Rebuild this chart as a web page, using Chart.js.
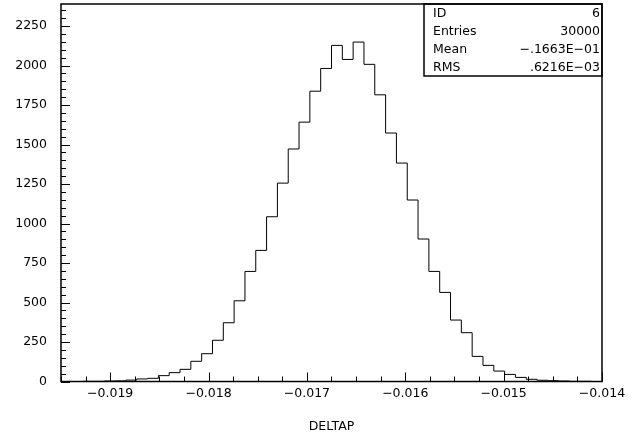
<!DOCTYPE html>
<html>
<head>
<meta charset="utf-8">
<script src="https://cdn.jsdelivr.net/npm/chart.js@4.4.0/dist/chart.umd.min.js"></script>
<style>
  html, body { margin: 0; padding: 0; background: #fff; }
  canvas { display: block; }
</style>
</head>
<body>
<canvas id="histo" width="643" height="439"></canvas>
<script>
// ── DELTAP histogram (ID 6), 50 bins ──

const xLow = -0.0195;
const xHigh = -0.014;
const binWidth = 0.00011;
const yMax = 2390;

// bin contents, left to right
const counts = [
  0, 0, 1, 1, 3, 4, 9, 16, 20, 37,
  56, 77, 128, 176, 261, 372, 511, 697, 830, 1043,
  1256, 1472, 1642, 1838, 1982, 2128, 2039, 2149, 2008, 1815,
  1573, 1383, 1149, 902, 697, 564, 389, 309, 159, 102,
  66, 45, 26, 14, 8, 5, 3, 1, 1, 0
];

const xTicks = [-0.019, -0.018, -0.017, -0.016, -0.015, -0.014];
const yTicks = [0, 250, 500, 750, 1000, 1250, 1500, 1750, 2000, 2250];
const xMinorStep = 0.00025;
const yMinorStep = 50;

const statsLabels = ['ID', 'Entries', 'Mean', 'RMS'];
const statsValues = ['6', '30000', '\u2212.1663E\u221201', '.6216E\u221203'];

const FONT = 'DejaVu Sans';
Chart.defaults.font.family = FONT;
Chart.defaults.font.size = 12.5;
Chart.defaults.color = '#000';

// outline points: up at the first edge, one point per bin, down at the last edge
const pts = [{ x: xLow, y: 0 }];
counts.forEach((c, i) => pts.push({ x: xLow + i * binWidth, y: c }));
pts.push({ x: xLow + counts.length * binWidth, y: 0 });

const minus = v => String(v).replace('-', '\u2212');

// frame, inward ticks and the stats box (PAW style)
const pawFrame = {
  id: 'pawFrame',
  afterDraw(chart) {
    const { ctx, chartArea: a, scales: { x, y } } = chart;
    ctx.save();
    ctx.strokeStyle = '#000';
    ctx.lineWidth = 1;
    ctx.beginPath();
    const nx = Math.round((xHigh - xLow) / xMinorStep);
    for (let k = 0; k <= nx; k++) {
      const px = Math.round(x.getPixelForValue(xLow + k * xMinorStep)) + 0.5;
      ctx.moveTo(px, a.bottom); ctx.lineTo(px, a.bottom - 5);
    }
    xTicks.forEach(v => {
      const px = Math.round(x.getPixelForValue(v)) + 0.5;
      ctx.moveTo(px, a.bottom); ctx.lineTo(px, a.bottom - 9);
    });
    for (let v = 0; v <= yMax; v += yMinorStep) {
      const py = Math.round(y.getPixelForValue(v)) + 0.5;
      ctx.moveTo(a.left, py); ctx.lineTo(a.left + 5, py);
    }
    yTicks.forEach(v => {
      const py = Math.round(y.getPixelForValue(v)) + 0.5;
      ctx.moveTo(a.left, py); ctx.lineTo(a.left + 9, py);
    });
    ctx.stroke();

    ctx.lineWidth = 1.5;
    ctx.strokeRect(a.left, a.top, a.right - a.left, a.bottom - a.top);

    // stats box
    const bx = 424, by = a.top, bw = a.right - bx, bh = 72;
    ctx.strokeRect(bx, by, bw, bh);
    ctx.fillStyle = '#000';
    ctx.font = '12.5px "' + FONT + '"';
    ctx.textBaseline = 'alphabetic';
    statsLabels.forEach((lab, i) => {
      const ty = by + 12.9 + i * 18.1;
      ctx.textAlign = 'left';
      ctx.fillText(lab, bx + 9, ty);
      ctx.textAlign = 'right';
      ctx.fillText(statsValues[i], a.right - 2, ty);
    });
    ctx.restore();
  }
};

new Chart(document.getElementById('histo'), {
  type: 'line',
  data: {
    datasets: [{
      data: pts,
      stepped: true,
      borderColor: '#000',
      borderWidth: 1,
      pointRadius: 0,
      fill: false
    }]
  },
  options: {
    responsive: false,
    animation: false,
    devicePixelRatio: 1,
    layout: { padding: { top: 4, right: 41, left: 0, bottom: 0 } },
    plugins: { legend: { display: false }, tooltip: { enabled: false } },
    scales: {
      x: {
        type: 'linear',
        min: xLow,
        max: xHigh,
        grid: { display: false, drawTicks: false },
        border: { display: false },
        afterBuildTicks: s => { s.ticks = xTicks.map(v => ({ value: v })); },
        afterFit: s => { s.height = 57.5; s.paddingLeft = 0; s.paddingRight = 0; },
        ticks: { padding: 5, maxRotation: 0, autoSkip: false, callback: v => minus(v) },
        title: { display: true, text: 'DELTAP', padding: { top: 0, bottom: 5 } }
      },
      y: {
        min: 0,
        max: yMax,
        grid: { display: false, drawTicks: false },
        border: { display: false },
        afterBuildTicks: s => { s.ticks = yTicks.map(v => ({ value: v })); },
        afterFit: s => { s.width = 61; s.paddingTop = 0; s.paddingBottom = 0; },
        ticks: { padding: 14, autoSkip: false, callback: v => String(v) }
      }
    }
  },
  plugins: [pawFrame]
});
</script>
</body>
</html>
